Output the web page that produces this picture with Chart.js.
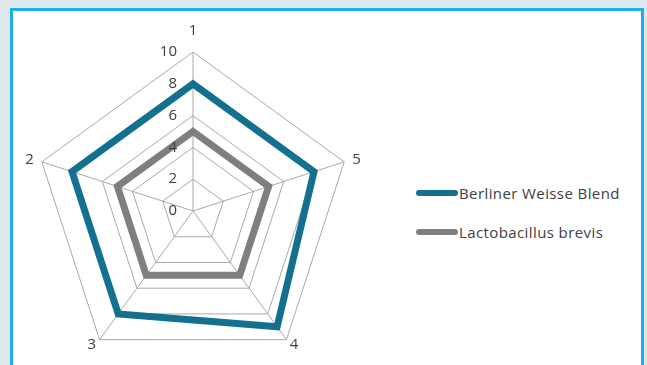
<!DOCTYPE html>
<html>
<head>
<meta charset="utf-8">
<script src="https://cdn.jsdelivr.net/npm/chart.js@4/dist/chart.umd.min.js"></script>
<style>
  html, body { margin: 0; padding: 0; }
  body { width: 647px; height: 365px; overflow: hidden; background: #dfe8ee; position: relative;
         font-family: "Open Sans", Lato, sans-serif; }
  #frame { position: absolute; left: 10px; top: 8px; width: 628px; height: 380px;
           border: 3px solid #1eaee8; background: #fff; }
  #wrap { position: absolute; left: 0; top: 0; width: 386px; height: 380px; }
  #legend { position: absolute; left: 416px; top: 180px; }
  .row { display: flex; align-items: center; height: 26px; margin-bottom: 13px;
         font-size: 15px; letter-spacing: 0.4px; color: #404040; }
  .sw { width: 42px; height: 6px; border-radius: 3px; margin-right: 1px; }
</style>
</head>
<body>
<div id="frame"></div>
<div id="wrap"><canvas id="c"></canvas></div>
<div id="legend"></div>
<script>
// axis categories and the two series (category order 1..5)
var axes = ["1", "2", "3", "4", "5"];
var berliner = [8, 8, 8, 9, 8];
var brevis = [5, 5, 5, 5, 5];
var seriesNames = ["Berliner Weisse Blend", "Lactobacillus brevis"];
var seriesColors = ["#13708f", "#7f7f80"];
var tickValues = [0, 2, 4, 6, 8, 10];

// the picture runs counter-clockwise, Chart.js runs clockwise: walk 1,5,4,3,2
var order = [0, 4, 3, 2, 1];
function pick(arr) { return order.map(function (i) { return arr[i]; }); }
var shownAxes = pick(axes);

// tick numbers left of the first axis, category labels hugging the outer ring
var labelsPlugin = {
  id: "labelsPlugin",
  afterDraw: function (chart) {
    var r = chart.scales.r, ctx = chart.ctx;
    ctx.save();
    ctx.font = "15px 'Open Sans'";
    ctx.fillStyle = "#404040";
    ctx.textBaseline = "middle";
    ctx.textAlign = "right";
    tickValues.forEach(function (v) {
      var p = r.getPointPositionForValue(0, v);
      ctx.fillText(String(v), p.x - 16, p.y);
    });
    ctx.textAlign = "center";
    shownAxes.forEach(function (lab, i) {
      var a = 2 * Math.PI * i / shownAxes.length;
      var p = r.getPointPosition(i, r.drawingArea);
      ctx.fillText(lab, p.x + Math.sin(a) * 13, p.y - Math.cos(a) * (i === 0 ? 21 : 6));
    });
    ctx.restore();
  }
};

new Chart(document.getElementById("c"), {
  type: "radar",
  data: {
    labels: shownAxes,
    datasets: [
      { label: seriesNames[0], data: pick(berliner), borderColor: seriesColors[0], borderWidth: 7, fill: false, pointRadius: 0, borderJoinStyle: "miter" },
      { label: seriesNames[1], data: pick(brevis), borderColor: seriesColors[1], borderWidth: 7, fill: false, pointRadius: 0, borderJoinStyle: "miter" }
    ]
  },
  options: {
    responsive: true,
    maintainAspectRatio: false,
    animation: false,
    layout: { padding: { top: 52, bottom: 10, left: 34, right: 34 } },
    plugins: { legend: { display: false }, tooltip: { enabled: false } },
    scales: {
      r: {
        min: 0, max: 10,
        ticks: { stepSize: 2, display: false },
        grid: { color: "#a9a9a9", lineWidth: 1 },
        angleLines: { color: "#a9a9a9", lineWidth: 1 },
        pointLabels: { display: false }
      }
    }
  },
  plugins: [labelsPlugin]
});

// html legend from the same names / colours
var lg = document.getElementById("legend");
seriesNames.forEach(function (n, i) {
  var row = document.createElement("div"); row.className = "row";
  var sw = document.createElement("div"); sw.className = "sw"; sw.style.background = seriesColors[i];
  var tx = document.createElement("span"); tx.textContent = n;
  row.appendChild(sw); row.appendChild(tx); lg.appendChild(row);
});
</script>
</body>
</html>
